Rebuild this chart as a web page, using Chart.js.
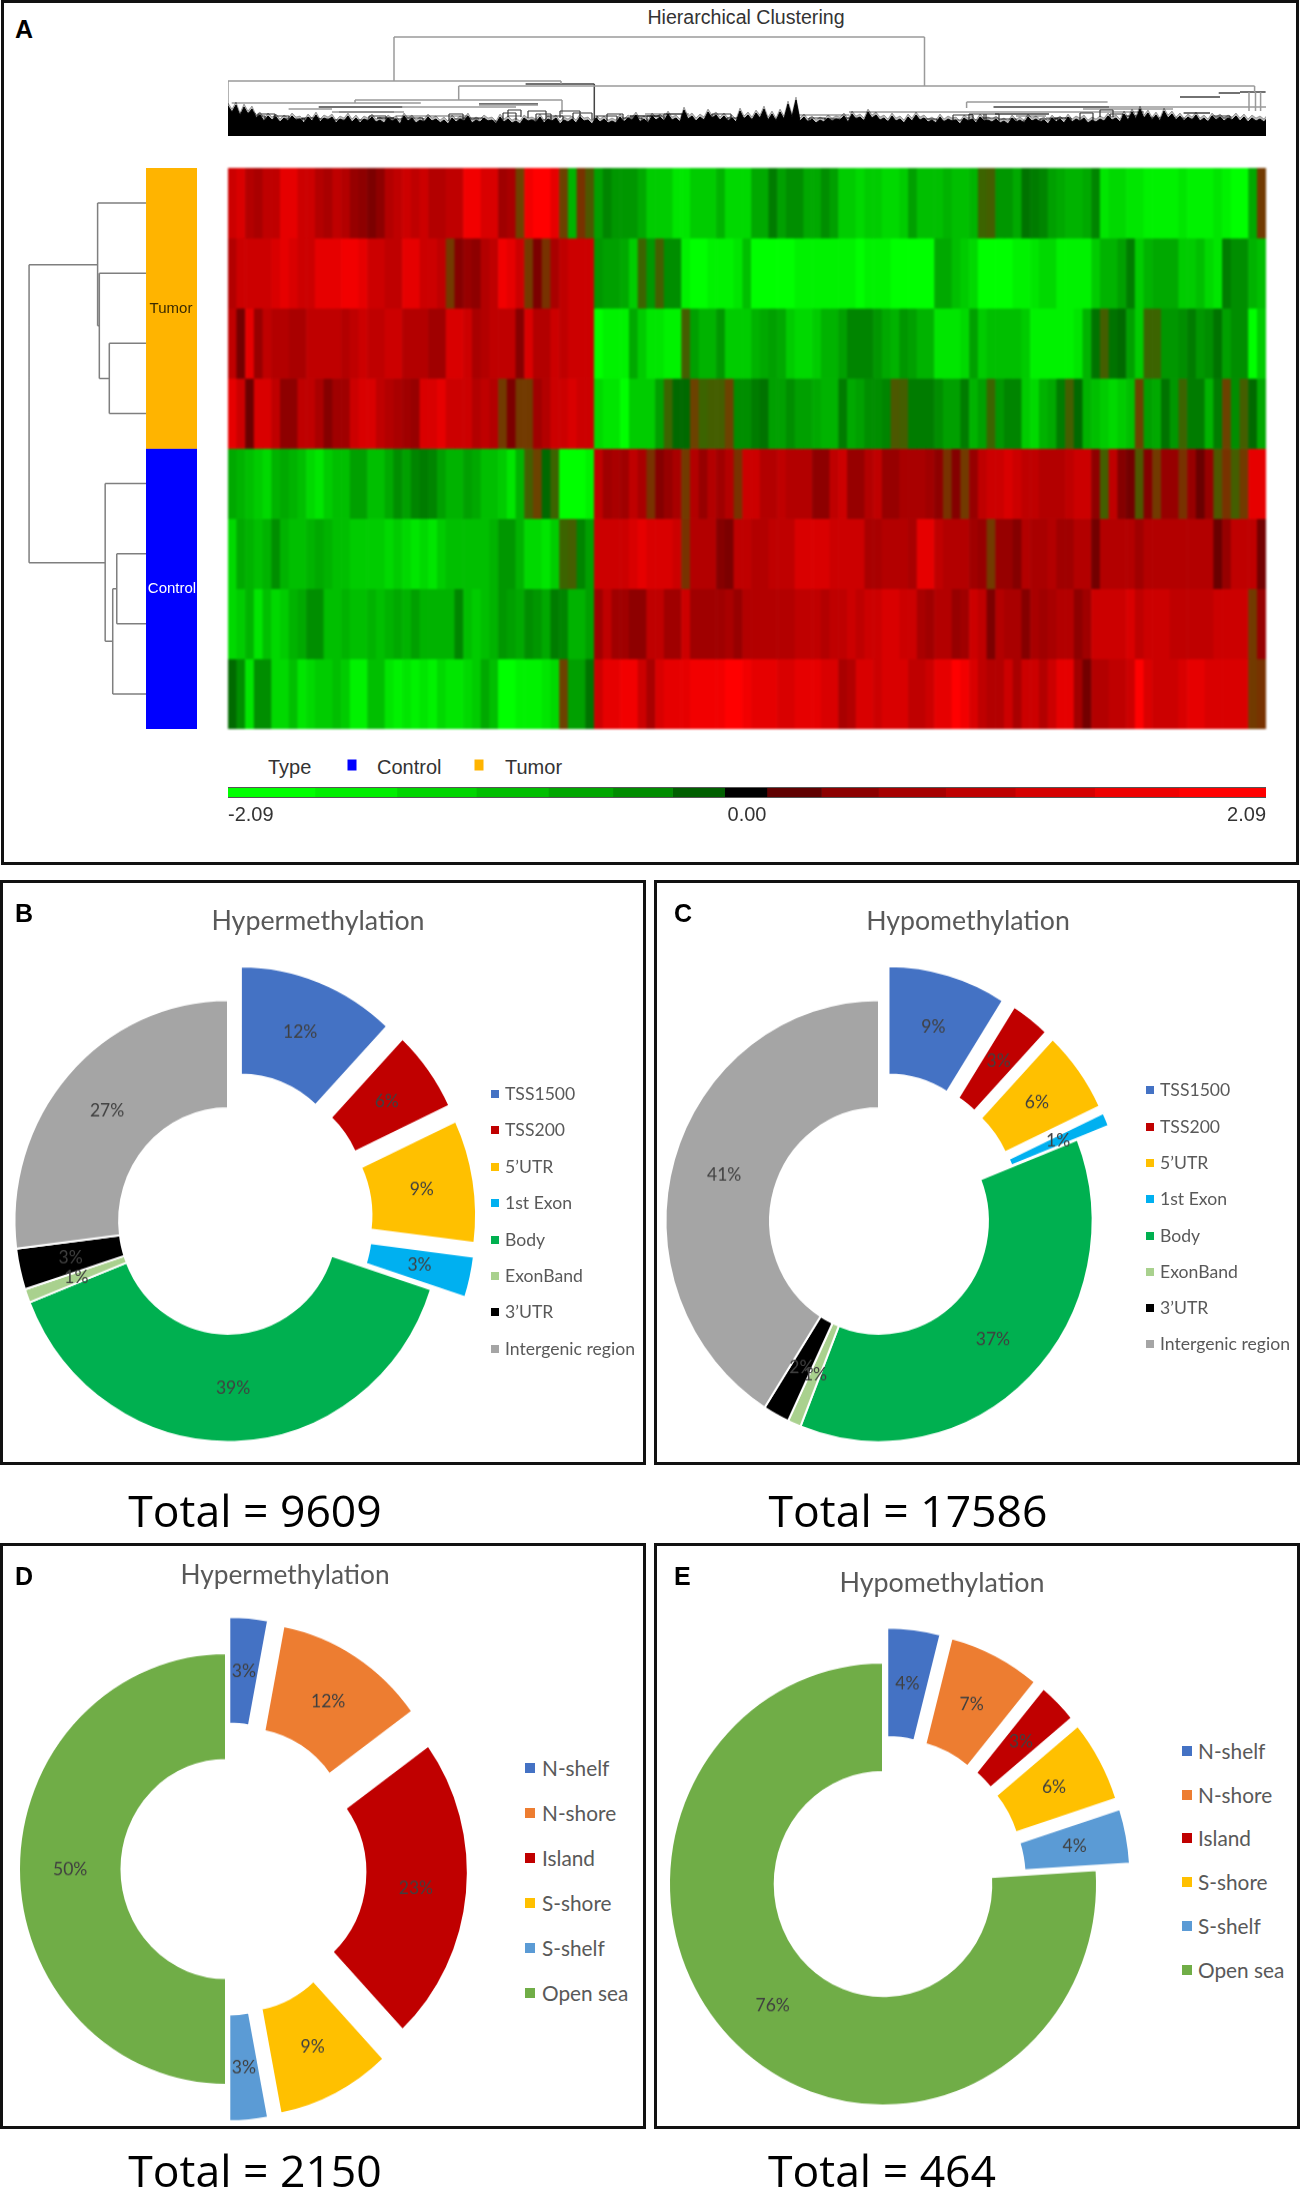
<!DOCTYPE html>
<html>
<head>
<meta charset="utf-8">
<title>Methylation</title>
<script src="https://cdn.jsdelivr.net/npm/chart.js@4"></script>
<style>
    html, body { margin: 0; padding: 0; background: #fff; }
    #page { position: relative; width: 1300px; height: 2189px; overflow: hidden; background: #fff; }
    .box { position: absolute; box-sizing: border-box; border: 3px solid #111; }
    canvas { position: absolute; }
    .txt { position: absolute; white-space: nowrap; line-height: 1; transform: translateY(-50%); }
    .mid { transform: translate(-50%, -50%); }
    .arial { font-family: "Liberation Sans", Arial, sans-serif; color: #333; }
    .letter { font-family: "Liberation Sans", Arial, sans-serif; font-weight: bold; font-size: 25px; color: #000; }
    .office { font-family: Lato, sans-serif; color: #595959; }
    .total { font-family: "Open Sans", sans-serif; font-size: 44.5px; color: #000; }
    .swatch { position: absolute; transform: translate(-50%, -50%); }
</style>
</head>
<body>
<div id="page"></div>
<script>
// Heatmap rows, tenths of the log ratio, one value per column stripe
const tumor1 = [16,17,14,13,15,15,18,18,16,16,14,13,15,14,11,10,8,10,14,15,16,15,16,14,14,15,15,19,19,17,17,12,13,3,19,20,20,18,3,-14,5,-3,
    -12,-9,-11,-11,-11,-13,-16,-16,-16,-18,-18,-16,-16,-16,-14,-17,-17,-17,-13,-13,-8,-12,-10,-10,-13,-13,-10,-12,-16,-16,-17,-16,-16,-17,-17,-16,-12,-15,-15,
    -15,-14,-15,-15,-14,-5,-4,-11,-11,-13,-7,-8,-9,-12,-13,-14,-14,-13,-9,-18,-17,-17,-18,-18,-19,-19,-19,-19,-18,-19,-19,-19,-18,-19,-20,-20,-13,4];
const tumor2 = [14,16,16,16,16,17,18,17,16,16,18,18,18,19,19,18,16,16,15,15,18,18,16,16,15,4,9,11,10,14,15,19,18,16,4,8,5,13,15,16,16,16,
    -11,-12,-12,-13,-16,-5,-11,-4,-10,-10,-19,-20,-20,-19,-19,-19,-18,-15,-20,-20,-20,-20,-20,-19,-19,-19,-19,-19,-19,-19,-20,-19,-19,-19,-20,-20,-20,-20,-20,
    -13,-13,-15,-16,-17,-20,-20,-20,-20,-19,-19,-18,-17,-17,-19,-19,-19,-19,-16,-14,-14,-12,-8,-16,-14,-13,-13,-13,-16,-16,-15,-17,-18,-8,-10,-10,-14,-15];
const tumor3 = [15,7,18,11,15,14,14,13,13,15,15,15,15,14,15,16,15,15,16,16,14,14,14,12,12,17,17,16,13,14,15,15,15,9,17,14,14,16,15,16,16,16,
    -20,-19,-19,-19,-13,-16,-18,-18,-19,-19,-4,-12,-14,-14,-11,-16,-16,-16,-14,-13,-12,-13,-16,-17,-17,-16,-14,-14,-12,-9,-9,-9,-11,-13,-14,-11,-12,-14,-14,
    -18,-18,-18,-17,-12,-16,-15,-15,-15,-15,-16,-19,-19,-19,-19,-19,-18,-14,-7,-4,-7,-6,-12,-16,-5,-5,-11,-11,-10,-8,-11,-10,-7,-12,-10,-10,-20,-16];
const tumor4 = [18,16,6,17,17,15,10,10,15,15,13,9,12,12,16,17,17,15,14,13,12,11,17,17,18,16,16,16,14,15,14,4,8,4,4,12,14,16,16,17,16,16,
    -17,-18,-18,-20,-16,-16,-16,-12,-5,-6,-6,3,-5,-4,-4,3,-10,-10,-8,-7,-12,-12,-10,-12,-12,-13,-14,-14,-8,-13,-12,-10,-10,-9,-3,-4,-8,-8,-8,
    -10,-12,-12,-8,-14,-12,-5,-11,-9,-9,-16,-17,-14,-13,-8,-4,-6,-14,-15,-16,-17,-16,-15,3,-12,-13,-7,-11,-5,-8,-8,-14,-8,3,-10,-4,-6,-13];
const control1 = [-13,-14,-15,-16,-17,-14,-13,-14,-15,-17,-18,-16,-15,-15,-12,-12,-15,-15,-13,-10,-12,-9,-8,-9,-12,-14,-14,-12,-13,-15,-15,-16,-18,-14,-4,3,-6,-5,-20,-20,-20,-19,
    15,12,13,12,15,13,5,9,11,13,4,14,11,14,12,14,5,16,16,14,14,15,14,14,14,10,10,15,16,11,11,14,15,11,11,13,13,13,12,
    10,5,9,4,11,15,16,16,17,16,15,15,14,14,14,15,16,16,10,-4,15,9,7,-3,9,4,11,11,5,11,6,11,-3,5,-4,4,18,18];
const control2 = [-17,-13,-14,-15,-14,-10,-14,-15,-15,-14,-13,-14,-15,-15,-16,-16,-16,-16,-17,-16,-17,-18,-17,-18,-16,-15,-15,-15,-15,-15,-14,-11,-11,-14,-17,-17,-18,-16,-5,-4,-9,-12,
    16,16,16,16,17,18,17,17,17,16,5,14,14,14,9,8,15,15,14,14,15,15,15,17,17,17,17,16,16,16,16,13,13,14,14,14,13,18,18,
    15,14,14,14,12,11,4,11,11,9,14,13,13,14,12,12,14,14,7,14,14,14,14,12,14,14,14,14,14,14,14,14,6,11,15,15,15,7];
const control3 = [-17,-16,-14,-18,-15,-17,-16,-14,-13,-10,-10,-15,-15,-14,-15,-15,-14,-15,-14,-13,-14,-12,-14,-14,-14,-14,-9,-15,-16,-15,-14,-11,-12,-13,-10,-11,-13,-8,-9,-14,-14,-12,
    12,15,12,12,10,10,15,15,12,12,16,12,12,12,12,13,11,14,14,14,14,14,14,15,15,15,14,15,15,16,15,16,16,17,17,16,16,13,12,
    14,14,11,12,16,15,8,14,13,13,9,13,12,13,14,14,10,12,16,16,16,16,17,15,16,16,16,15,15,15,15,15,16,16,16,16,4,11];
const control4 = [-6,-10,-18,-10,-10,-17,-17,-15,-18,-17,-16,-16,-15,-16,-19,-19,-15,-15,-18,-19,-18,-19,-18,-19,-17,-18,-18,-17,-16,-13,-15,-20,-20,-19,-19,-19,-18,-17,3,-12,-12,-7,
    16,18,18,19,19,16,13,17,18,18,18,19,19,19,19,20,20,19,18,18,18,17,17,18,18,18,17,17,13,14,17,17,16,17,17,17,15,15,16,
    18,18,20,19,17,15,14,14,16,13,16,16,14,16,18,18,12,7,14,14,15,15,16,20,17,16,16,16,17,18,18,17,17,17,17,17,4,5];
const heatRows = [tumor1, tumor2, tumor3, tumor4, control1, control2, control3, control4];

// Sample type bar
const typeNames = ['Tumor', 'Control'];
const typeCounts = [4, 4];

// Colour key
const scaleEdges = [-2.09,-1.74,-1.41,-1.09,-0.80,-0.54,-0.30,-0.09,0.08,0.30,0.53,0.80,1.08,1.40,1.74,2.09];
const scaleColors = ['#00FF00','#00EE00','#00D500','#00BE00','#00A600','#008C00','#005F00','#000000','#600000','#8C0000','#A60000','#BE0000','#D50000','#EE0000','#FF0000'];
const scaleTicks = [-2.09, 0, 2.09];

// Left dendrogram, [height, row, height, row]
const leftTree = [
    [0,0.5,49,0.5], [0,1.5,47.3,1.5], [0,2.5,37.4,2.5], [0,3.5,37.4,3.5],
    [37.4,2.5,37.4,3.5], [37.4,3,47.3,3], [47.3,1.5,47.3,3], [47.3,2.25,49,2.25],
    [49,0.5,49,2.25], [49,1.38,117,1.38], [117,1.38,117,5.63], [117,5.63,41.5,5.63],
    [41.5,4.5,41.5,6.75], [0,4.5,41.5,4.5], [41.5,6.75,34,6.75], [34,6,34,7.5],
    [0,7.5,34,7.5], [34,6,30,6], [30,5.5,30,6.5], [0,5.5,30,5.5], [0,6.5,30,6.5]
];

// Top dendrogram, [leaf, height, leaf, height]
const topTreeLight = [
    [166,99,696.5,99], [166,55,166,99], [696.5,50,696.5,99],
    [0,55,333,55], [0,25,0,55], [333,52,333,55],
    [230.7,50,1026.6,50], [230.7,36,230.7,50], [127,36,334,36], [127,33,127,36], [334,22,334,36],
    [3.7,33,192.8,33], [174,29,288,29], [251,31,310,31], [60.6,27,104,27], [104,24,176,24],
    [167.7,20,239.7,20], [226,17,251,17], [280,20,293,20], [302,16,318,16], [332,20,343,20], [353.5,12,363.5,12],
    [392,15,454,15], [417,22,461,22], [484,16,502,16],
    [738.6,34,879.6,34], [738.6,28,738.6,34], [881,29,916,29], [916,29,1112,29],
    [681,24,916,24], [565,21,621,21], [621,24,788,24], [788,20,818,20], [818,18,838,18],
    [855,27,945,27], [909,18,955.6,18], [982,18,1004,18], [724.6,16,751,16], [751,18,771,18], [927,12,944,12],
    [1026.6,50,1026.6,44], [1021,25,1021,44], [1027.5,25,1027.5,44], [1032.6,25,1032.6,44]
];
const topTreeDark = [
    [297.6,52,366.3,52], [90.7,29,174.4,29], [251,32,310,32], [111,24,166,24], [149,18,166,18],
    [402,20,432,20], [765.5,29,881,29], [767,22,821,22], [955.6,23,982,23], [1012,44,1037.6,44],
    [990.7,43,1012,43], [952,39,992,39], [366.3,10,366.3,52]
];

// Small merges just above the leaf band, [leaf, leaf, height]
const topTwigs = [
    [12,27,23],[17,37,20],[30,47,22],[46,61,20],[57,77,17],[74,91,18],[91,104,17],[104,121,16],[128,144,16],[141,158,20],
    [158,174,17],[174,195,18],[195,211,15],[221,235,22],[235,255,18],[255,268,15],[275,288,23],[280,293,26],[300,318,25],[308,323,22],
    [318,335,20],[332,352,25],[345,364,23],[369,389,20],[379,395,22],[395,414,18],[419,436,20],[436,454,22],[466,484,15],[484,503,22],
    [499,519,18],[517,530,17],[532,549,15],[547,564,17],[567,584,15],[581,597,18],[597,614,17],[614,632,18],[632,649,16],[649,673,15],
    [674,688,13],[694,709,17],[711,725,15],[725,745,21],[741,758,22],[756,771,22],[771,788,17],[795,812,15],[812,830,17],[827,843,18],
    [852,865,23],[872,885,26],[882,895,22],[895,909,20],[909,927,18],[927,944,15],[949,966,17],[966,982,15],[984,1002,20],[999,1014,15]
];

// Top of the dense leaf band, height at each station along the leaves
const leafBand = [27,21,28,17,26,19,24,15,18,12,17,13,16,11,15,12,17,13,14,10,16,12,18,11,15,13,16,10,14,12,17,11,
    15,10,14,12,16,11,13,10,15,12,14,9,17,12,15,10,13,11,16,12,14,10,13,9,15,11,14,12,17,10,13,11,
    15,12,13,9,16,11,14,10,12,9,15,12,13,11,16,10,14,12,15,9,13,11,14,10,16,12,13,9,15,11,14,10,
    12,10,16,11,15,13,18,11,14,10,17,13,16,12,19,13,15,11,23,14,17,12,16,13,21,15,18,13,17,12,15,11,
    22,14,18,13,20,15,24,13,19,12,21,14,29,16,33,12,16,11,14,10,13,11,15,12,14,13,17,11,19,14,16,12,
    21,15,18,13,15,11,17,12,14,10,16,12,18,13,15,11,13,10,16,11,14,12,13,9,15,12,14,10,16,12,13,11,
    14,10,12,9,15,11,13,10,16,12,14,11,13,9,15,11,14,10,16,11,14,12,15,10,13,11,14,12,17,13,15,11,
    19,13,21,14,24,15,20,13,18,12,22,15,19,13,17,12,16,13,18,12,15,11,17,13,16,12,15,13,17,12,16,11,
    15,12,14,11,16,13,15,12,27,19,28,21,29,20,27,22,26,24];

// Donut panels
const regionLabels = ['TSS1500', 'TSS200', "5\u2019UTR", '1st Exon', 'Body', 'ExonBand', "3\u2019UTR", 'Intergenic region'];
const regionColors = ['#4472C4', '#C00000', '#FFC000', '#00B0F0', '#00B050', '#A9D18E', '#000000', '#A5A5A5'];
const regionExploded = [1, 1, 1, 1, 0, 0, 0, 0];
const hyperRegion = [12, 6, 9, 3, 39, 1, 3, 27];
const hypoRegion = [9, 3, 6, 1, 37, 1, 2, 41];

const islandLabels = ['N-shelf', 'N-shore', 'Island', 'S-shore', 'S-shelf', 'Open sea'];
const islandColors = ['#4472C4', '#ED7D31', '#C00000', '#FFC000', '#5B9BD5', '#70AD47'];
const islandExploded = [1, 1, 1, 1, 1, 0];
const hyperIsland = [3, 12, 23, 9, 3, 50];
const hypoIsland = [4, 7, 3, 6, 4, 76];

const page = document.getElementById('page');

function addBox(x, y, w, h) {
    const el = document.createElement('div');
    el.className = 'box';
    el.style.cssText = `left:${x}px;top:${y}px;width:${w}px;height:${h}px`;
    page.appendChild(el);
}

function addText(text, x, y, cls, style) {
    const el = document.createElement('div');
    el.className = 'txt ' + cls;
    el.textContent = text;
    el.style.cssText = `left:${x}px;top:${y}px;${style || ''}`;
    page.appendChild(el);
    return el;
}

function addCanvas(x, y, w, h) {
    const c = document.createElement('canvas');
    c.width = w;
    c.height = h;
    c.style.left = x + 'px';
    c.style.top = y + 'px';
    c.style.width = w + 'px';
    c.style.height = h + 'px';
    page.appendChild(c);
    return c;
}

// Base options, every chart is static and fills its canvas
function baseOptions(extra) {
    return Object.assign({
        responsive: false,
        animation: false,
        events: [],
        layout: { padding: 0 },
        plugins: { legend: { display: false }, tooltip: { enabled: false }, title: { display: false } }
    }, extra);
}

// Near zero stripes show as the olive mix seen in the picture
function heatColor(v) {
    const a = Math.abs(v);
    if (v > 0 && a <= 5) return `rgb(${90 + a * 6},${90 - a * 8},0)`;
    if (v < 0 && a <= 5) return `rgb(${100 - a * 8},${70 + a * 6},0)`;
    const c = a >= 14 ? Math.min(255, Math.round(a / 20 * 255)) : Math.round(178 - (14 - a) * 9);
    return v > 0 ? `rgb(${c},0,0)` : `rgb(0,${c},0)`;
}

function segmentPoints(segments) {
    const pts = [];
    segments.forEach(s => {
        pts.push({ x: s[0], y: s[1] }, { x: s[2], y: s[3] }, { x: NaN, y: NaN });
    });
    return pts;
}

// Heatmap
function initHeatmap() {
    const canvas = addCanvas(228, 168, 1038, 561);
    canvas.style.filter = 'blur(0.8px)';
    new Chart(canvas, {
        type: 'bar',
        data: {
            labels: tumor1.map((v, i) => i),
            datasets: heatRows.map(row => ({
                data: row.map(() => 1),
                backgroundColor: row.map(heatColor),
                borderWidth: 0,
                barPercentage: 1,
                categoryPercentage: 1
            }))
        },
        options: baseOptions({
            scales: {
                x: { display: false, stacked: true },
                y: { display: false, stacked: true, min: 0, max: heatRows.length, reverse: true }
            }
        })
    });
}

// Tumor / Control bar
function initTypeBar() {
    new Chart(addCanvas(146, 168, 51, 561), {
        type: 'bar',
        data: {
            labels: ['Type'],
            datasets: typeNames.map((name, i) => ({
                label: name,
                data: [typeCounts[i]],
                backgroundColor: i === 0 ? '#FFB400' : '#0000FF',
                borderWidth: 0,
                barPercentage: 1,
                categoryPercentage: 1
            }))
        },
        options: baseOptions({
            scales: {
                x: { display: false, stacked: true },
                y: { display: false, stacked: true, min: 0, max: 8, reverse: true }
            }
        })
    });
    addText(typeNames[0], 171, 307, 'arial mid', 'font-size:15px;color:#3a2a00');
    addText(typeNames[1], 172, 587, 'arial mid', 'font-size:15px;color:#fff');
}

// Thin dark edge above and below the key
const keyEdges = {
    id: 'keyEdges',
    afterDatasetsDraw(chart) {
        const { ctx, chartArea } = chart;
        ctx.save();
        ctx.fillStyle = '#555';
        ctx.fillRect(chartArea.left, chartArea.top, chartArea.width, 1);
        ctx.fillRect(chartArea.left, chartArea.bottom - 1, chartArea.width, 1);
        ctx.restore();
    }
};

// Colour key with its three ticks
function initColorKey() {
    new Chart(addCanvas(228, 787, 1038, 41), {
        type: 'bar',
        data: {
            labels: ['key'],
            datasets: scaleColors.map((col, i) => ({
                data: [[scaleEdges[i], scaleEdges[i + 1]]],
                backgroundColor: col,
                borderWidth: 0,
                grouped: false,
                barPercentage: 1,
                categoryPercentage: 1
            }))
        },
        options: baseOptions({
            indexAxis: 'y',
            scales: {
                y: { display: false },
                x: {
                    min: -2.09,
                    max: 2.09,
                    grid: { display: false, drawTicks: false },
                    border: { display: false },
                    afterBuildTicks: axis => { axis.ticks = scaleTicks.map(v => ({ value: v })); },
                    afterFit: axis => {
                        axis.height = 30;
                        axis.paddingLeft = 0;
                        axis.paddingRight = 0;
                    },
                    ticks: {
                        align: 'inner',
                        autoSkip: false,
                        maxRotation: 0,
                        padding: 5,
                        color: '#333',
                        font: { family: '"Liberation Sans"', size: 20 },
                        callback: value => value.toFixed(2)
                    }
                }
            }
        }),
        plugins: [keyEdges]
    });
}

function initLeftTree() {
    new Chart(addCanvas(20, 168, 127, 561), {
        type: 'scatter',
        data: {
            datasets: [{
                data: segmentPoints(leftTree),
                showLine: true,
                borderColor: '#7f7f7f',
                borderWidth: 1.5,
                pointRadius: 0,
                spanGaps: false
            }]
        },
        options: baseOptions({
            scales: {
                x: { display: false, min: 0, max: 126, reverse: true },
                y: { display: false, min: 0, max: 8, reverse: true }
            }
        })
    });
}

function initTopTree() {
    const line = (segments, color, width) => ({
        data: segmentPoints(segments),
        showLine: true,
        borderColor: color,
        borderWidth: width,
        pointRadius: 0,
        spanGaps: false
    });
    const band = (lift, color) => ({
        data: leafBand.map((h, i) => ({ x: i * 4, y: h + lift })),
        showLine: true,
        borderColor: color,
        backgroundColor: color,
        borderWidth: 1,
        pointRadius: 0,
        tension: 0,
        fill: 'origin'
    });
    const twigSegments = [];
    topTwigs.forEach(t => {
        twigSegments.push([t[0], t[2], t[1], t[2]], [t[0], t[2], t[0], t[2] - 7], [t[1], t[2], t[1], t[2] - 7]);
    });
    new Chart(addCanvas(228, 30, 1038, 106), {
        type: 'scatter',
        data: {
            datasets: [
                band(6, 'rgba(0,0,0,0.28)'),
                band(3, '#000'),
                line(twigSegments, '#3a3a3a', 1.2),
                line(topTreeLight, '#9a9a9a', 1.5),
                line(topTreeDark, '#444', 1.5)
            ]
        },
        options: baseOptions({
            scales: {
                x: { display: false, min: 0, max: 1038 },
                y: { display: false, min: 0, max: 106 }
            }
        })
    });
}

// Pulls the exploded slices straight out, the arc's own offset also widens them
const explodeSlices = {
    id: 'explodeSlices',
    beforeDatasetsDraw(chart) {
        const shifts = chart.data.datasets[0].explode;
        chart.getDatasetMeta(0).data.forEach((arc, i) => {
            if (arc.drawShifted) return;
            const plainDraw = arc.draw;
            arc.drawShifted = true;
            arc.draw = function (ctx) {
                const mid = (this.startAngle + this.endAngle) / 2;
                ctx.save();
                ctx.translate(Math.cos(mid) * shifts[i], Math.sin(mid) * shifts[i]);
                plainDraw.call(this, ctx);
                ctx.restore();
            };
        });
    }
};

// Percent labels on the middle of each ring slice
const ringLabels = {
    id: 'ringLabels',
    afterDatasetsDraw(chart) {
        const ctx = chart.ctx;
        const dataset = chart.data.datasets[0];
        ctx.save();
        ctx.font = '17.5px Lato';
        ctx.fillStyle = '#404040';
        ctx.textAlign = 'center';
        ctx.textBaseline = 'middle';
        chart.getDatasetMeta(0).data.forEach((arc, i) => {
            const p = arc.getCenterPoint();
            const mid = (arc.startAngle + arc.endAngle) / 2;
            const off = dataset.explode[i];
            ctx.fillText(dataset.data[i] + '%', p.x + Math.cos(mid) * off, p.y + Math.sin(mid) * off);
        });
        ctx.restore();
    }
};

function initDonut(p) {
    const size = 560;
    const canvas = addCanvas(p.cx - size / 2, p.cy - size / 2, size, size);
    canvas.style.transform = `scaleY(${p.stretch})`;
    new Chart(canvas, {
        type: 'doughnut',
        data: {
            labels: p.labels,
            datasets: [{
                data: p.values,
                backgroundColor: p.colors,
                borderColor: '#fff',
                borderWidth: 2,
                explode: p.exploded.map(e => e * p.offset)
            }]
        },
        options: baseOptions({ radius: p.radius, cutout: p.cutout }),
        plugins: [explodeSlices, ringLabels]
    });

    addText(p.title, p.titleX, p.titleY, 'office mid', `font-size:${p.titleSize}px`);
    addText(p.letter, p.letterX, p.letterY, 'letter');
    addText(p.total, p.totalX, p.totalY, 'total mid');

    p.labels.forEach((label, i) => {
        const y = p.legendY + i * p.legendStep;
        const sw = document.createElement('div');
        sw.className = 'swatch';
        sw.style.cssText = `left:${p.swatchX}px;top:${y}px;width:${p.swatchSize}px;height:${p.swatchSize}px;background:${p.colors[i]}`;
        page.appendChild(sw);
        addText(label, p.legendX, y, 'office', `font-size:${p.legendSize}px`);
    });
}

// Frames
addBox(1, 0, 1298, 865);
addBox(0, 880, 646, 585);
addBox(654, 880, 646, 585);
addBox(0, 1543, 646, 586);
addBox(654, 1543, 646, 586);

// Panel A
addText('A', 15, 29, 'letter');
addText('Hierarchical Clustering', 746, 18, 'arial mid', 'font-size:19.6px');
initTopTree();
initLeftTree();
initTypeBar();
initHeatmap();
initColorKey();
addText('Type', 268, 767, 'arial', 'font-size:20px');
addText('Control', 377, 767, 'arial', 'font-size:20px');
addText('Tumor', 505, 767, 'arial', 'font-size:20px');
[[352, '#0000FF'], [479, '#FFB400']].forEach(k => {
    const sw = document.createElement('div');
    sw.className = 'swatch';
    sw.style.cssText = `left:${k[0]}px;top:765px;width:9px;height:11px;background:${k[1]}`;
    page.appendChild(sw);
});

// Panels B to E
initDonut({
    labels: regionLabels, colors: regionColors, exploded: regionExploded, values: hyperRegion,
    cx: 228, cy: 1221, radius: 213.5, stretch: 1.035, cutout: '51%', offset: 35,
    title: 'Hypermethylation', titleX: 318, titleY: 920, titleSize: 26.8,
    letter: 'B', letterX: 15, letterY: 913,
    total: 'Total = 9609', totalX: 255, totalY: 1510,
    swatchX: 495, swatchSize: 8, legendX: 505, legendY: 1094, legendStep: 36.4, legendSize: 17.6
});
initDonut({
    labels: regionLabels, colors: regionColors, exploded: regionExploded, values: hypoRegion,
    cx: 879, cy: 1221, radius: 213.5, stretch: 1.035, cutout: '51%', offset: 34,
    title: 'Hypomethylation', titleX: 968, titleY: 920, titleSize: 26.7,
    letter: 'C', letterX: 674, letterY: 913,
    total: 'Total = 17586', totalX: 908, totalY: 1510,
    swatchX: 1150, swatchSize: 8, legendX: 1160, legendY: 1090.3, legendStep: 36.3, legendSize: 17.6
});
initDonut({
    labels: islandLabels, colors: islandColors, exploded: islandExploded, values: hyperIsland,
    cx: 226, cy: 1868.6, radius: 207, stretch: 1.043, cutout: '50.5%', offset: 35,
    title: 'Hypermethylation', titleX: 285, titleY: 1573.7, titleSize: 26.3,
    letter: 'D', letterX: 15, letterY: 1576,
    total: 'Total = 2150', totalX: 255, totalY: 2170,
    swatchX: 529.5, swatchSize: 10, legendX: 542, legendY: 1768.3, legendStep: 45, legendSize: 20.8
});
initDonut({
    labels: islandLabels, colors: islandColors, exploded: islandExploded, values: hypoIsland,
    cx: 882.6, cy: 1884.3, radius: 214, stretch: 1.035, cutout: '50.6%', offset: 34,
    title: 'Hypomethylation', titleX: 942, titleY: 1581.7, titleSize: 26.9,
    letter: 'E', letterX: 674, letterY: 1576,
    total: 'Total = 464', totalX: 882, totalY: 2170,
    swatchX: 1186.5, swatchSize: 10, legendX: 1198, legendY: 1750.7, legendStep: 43.8, legendSize: 20.8
});
</script>
</body>
</html>
